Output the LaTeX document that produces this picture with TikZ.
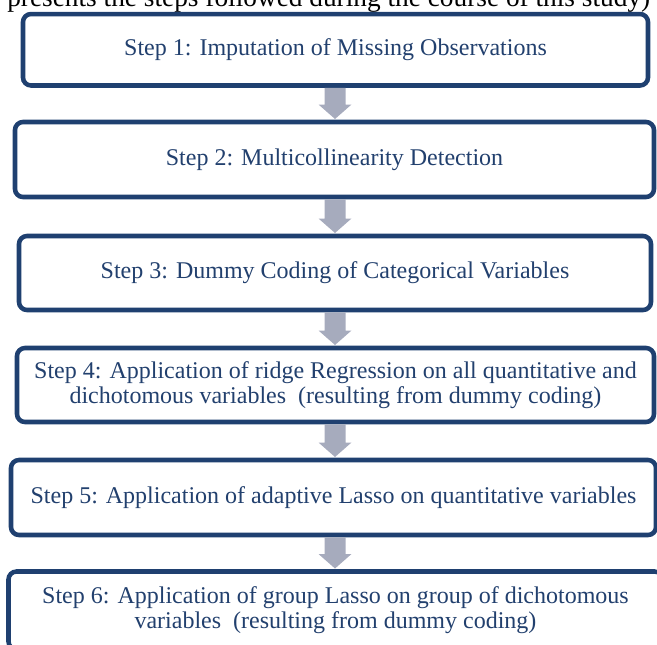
\documentclass[tikz,border=0pt]{standalone}
\usepackage{fontspec}
\setmainfont{Liberation Serif}
\usetikzlibrary{calc}
\definecolor{boxblue}{HTML}{1F4070}
\definecolor{txtblue}{HTML}{22406E}
\definecolor{arrgray}{HTML}{A6ABBD}
\tikzset{
  stepbox/.style={draw=boxblue, line width=3.4pt, rounded corners=6pt, fill=white,
    text=txtblue, align=center, inner sep=0pt, outer sep=0pt,
    font=\fontsize{18}{18.75}\selectfont},
  arrfill/.style={fill=arrgray, draw=none}
}
\newcommand\blockarr[2]{%
  \fill[arrfill] ($(#1.south -| ax)+(-10.5,2.3)$) -- ($(#1.south -| ax)+(10.5,2.3)$)
    -- ($(#2.north -| ax)+(10.5,-17.5)$) -- ($(#2.north -| ax)+(16.5,-17.5)$)
    -- ($(#2.north -| ax)+(0,-3)$) -- ($(#2.north -| ax)+(-16.5,-17.5)$)
    -- ($(#2.north -| ax)+(-10.5,-17.5)$) -- cycle;}
\begin{document}
\begin{tikzpicture}[x=0.75pt,y=-0.75pt]
\useasboundingbox (0,0) rectangle (657,644);
\clip (0,0) rectangle (657,644);
\coordinate (ax) at (335,0);
\node[anchor=base west, inner sep=0pt, font=\fontsize{20.5}{22}\selectfont] (cap) at (7,6)
  {presents the steps followed during the course of this study)};
\node[stepbox, minimum width=468.75pt, minimum height=53.6pt] (s1) at (335.5,49.75)
  {Step 1: Imputation of Missing Observations};
\node[stepbox, minimum width=479.25pt, minimum height=56.25pt] (s2) at (334.5,159.5)
  {Step 2: Multicollinearity Detection};
\node[stepbox, minimum width=474pt, minimum height=55.5pt] (s3) at (335,273)
  {Step 3: Dummy Coding of Categorical Variables};
\node[stepbox, minimum width=477.75pt, minimum height=55.5pt] (s4) at (335.5,385)
  {Step 4: Application of ridge Regression on all quantitative and\\dichotomous variables~ (resulting from dummy coding)};
\node[stepbox, minimum width=483.75pt, minimum height=56.25pt] (s5) at (333.5,497.5)
  {Step 5: Application of adaptive Lasso on quantitative variables};
\node[stepbox, minimum width=490.5pt, minimum height=58.5pt] (s6) at (335.5,610.5)
  {Step 6: Application of group Lasso on group of dichotomous\\variables~ (resulting from dummy coding)};
\blockarr{s1}{s2}
\blockarr{s2}{s3}
\blockarr{s3}{s4}
\blockarr{s4}{s5}
\blockarr{s5}{s6}
\end{tikzpicture}
\end{document}
